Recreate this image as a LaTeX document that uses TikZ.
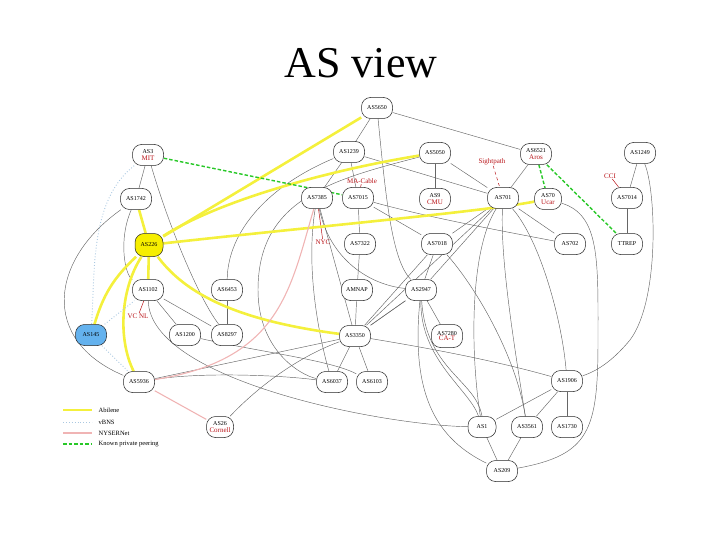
\documentclass[tikz,border=0pt]{standalone}
\usepackage{fontspec}
\setmainfont{Liberation Serif}
\definecolor{lblred}{RGB}{185,20,25}
\definecolor{abyellow}{RGB}{244,240,60}
\definecolor{nodeyellow}{RGB}{246,238,0}
\definecolor{vblue}{RGB}{170,200,225}
\definecolor{nypink}{RGB}{240,180,180}
\definecolor{pgreen}{RGB}{40,200,40}
\definecolor{nodeblue}{RGB}{100,178,238}
\pgfdeclarelayer{bg}
\pgfsetlayers{bg,main}
\begin{document}
\begin{tikzpicture}[x=1pt,y=-1pt,
  asn/.style={draw=black!85, line width=0.5pt, rounded corners=9pt, minimum width=31pt, minimum height=21pt, inner sep=1pt, fill=white, align=center, font=\fontsize{6}{6.5}\selectfont},
  ln/.style={draw=black!60, line width=0.45pt},
  abil/.style={draw=abyellow, line width=2.6pt},
  vbns/.style={draw=vblue, line width=0.9pt, dotted},
  nys/.style={draw=nypink, line width=1.1pt},
  peer/.style={draw=pgreen, line width=1.4pt, dash pattern=on 3.5pt off 2pt},
  call/.style={draw=lblred, line width=0.5pt},
  lbl/.style={text=lblred, font=\fontsize{7}{7}\selectfont, inner sep=0.5pt},
  leg/.style={anchor=west, font=\fontsize{6.5}{6.5}\selectfont, inner sep=0.5pt}]
\useasboundingbox (0,0) rectangle (720,540);
\node (title) at (361,63) {\fontsize{44}{44}\selectfont AS view};

% nodes
\node[asn] (as5650) at (377,108) {AS5650};
\node[asn] (as3) at (148,155) {AS3\\\textcolor{lblred}{\fontsize{7}{7}\selectfont MIT}};
\node[asn] (as1239) at (349,152) {AS1239};
\node[asn] (as5050) at (435,153) {AS5050};
\node[asn] (as6521) at (536,154) {AS6521\\\textcolor{lblred}{\fontsize{7}{7}\selectfont Aros}};
\node[asn] (as1249) at (640,153) {AS1249};
\node[asn] (as1742) at (136,199) {AS1742};
\node[asn] (as7385) at (317,198) {AS7385};
\node[asn] (as7015) at (358,198) {AS7015};
\node[asn] (as9) at (435,199) {AS9\\\textcolor{lblred}{\fontsize{7}{7}\selectfont CMU}};
\node[asn] (as701) at (503,198) {AS701};
\node[asn, minimum width=27pt] (as70) at (548,199) {AS70\\\textcolor{lblred}{\fontsize{7}{7}\selectfont Ucar}};
\node[asn] (as7014) at (627,198) {AS7014};
\node[asn, fill=nodeyellow, minimum width=28pt, minimum height=23pt] (as226) at (149,245) {AS226};
\node[asn] (as7322) at (360,244) {AS7322};
\node[asn] (as7018) at (437,244) {AS7018};
\node[asn] (as702) at (570,244) {AS702};
\node[asn] (ttrep) at (627,244) {TTREP};
\node[asn] (as1102) at (148,290) {AS1102};
\node[asn] (as6453) at (227,290) {AS6453};
\node[asn] (amnap) at (357,290) {AMNAP};
\node[asn] (as2947) at (421,290) {AS2947};
\node[asn, fill=nodeblue] (as145) at (91,335) {AS145};
\node[asn] (as1200) at (185,335) {AS1200};
\node[asn] (as8297) at (227,335) {AS8297};
\node[asn] (as3350) at (355,336) {AS3350};
\node[asn, minimum width=31pt, minimum height=23pt] (as7280) at (447,336) {AS7280\\[-1pt]\textcolor{lblred}{\fontsize{7}{7}\selectfont CA-T}};
\node[asn] (as5936) at (139,382) {AS5936};
\node[asn] (as6037) at (332,382) {AS6037};
\node[asn] (as6103) at (372,382) {AS6103};
\node[asn] (as1906) at (567,381) {AS1906};
\node[asn, minimum width=27pt] (as26) at (220,427) {AS26\\\textcolor{lblred}{\fontsize{7}{7}\selectfont Cornell}};
\node[asn, minimum width=28pt] (as1) at (482,427) {AS1};
\node[asn] (as3561) at (527,427) {AS3561};
\node[asn] (as1730) at (567,427) {AS1730};
\node[asn] (as209) at (502,471) {AS209};

% red labels
\node[lbl] (sight) at (492,162) {Sightpath};
\node[lbl] (cci) at (610,176) {CCI};
\node[lbl] (macable) at (362,181) {MA-Cable};
\node[lbl] (nyc) at (323,242) {NYC};
\node[lbl] (vcnl) at (138,316) {VC NL};

% legend
\coordinate (l1a) at (63,410); \coordinate (l1b) at (92,410);
\coordinate (l2a) at (63,422); \coordinate (l2b) at (92,422);
\coordinate (l3a) at (63,433); \coordinate (l3b) at (92,433);
\coordinate (l4a) at (63,444); \coordinate (l4b) at (92,444);
\draw[abil, line width=2pt] (l1a) -- (l1b);
\draw[vbns] (l2a) -- (l2b);
\draw[nys] (l3a) -- (l3b);
\draw[peer] (l4a) -- (l4b);
\node[leg] (t1) at (98,410) {Abilene};
\node[leg] (t2) at (98,422) {vBNS};
\node[leg] (t3) at (98,433) {NYSERNet};
\node[leg] (t4) at (98,444) {Known private peering};

\begin{pgfonlayer}{bg}
% black edges
\draw[ln] (as5650) -- (as1239);
\draw[ln] (as5650) -- (as6521);
\draw[ln] (as5650) .. controls (386,200) and (392,260) .. (as2947);
\draw[ln] (as3) -- (as1742);
\draw[ln] (as3) .. controls (170,230) and (200,300) .. (as8297);
\draw[ln] (as1742) .. controls (118,240) and (125,275) .. (as1102);
\draw[ln] (as1742) .. controls (50,260) and (40,340) .. (as5936);
\draw[ln] (as1239) -- (as7385);
\draw[ln] (as1239) -- (as7015);
\draw[ln] (as1239) -- (as701);
\draw[ln] (as1239) .. controls (270,185) and (228,230) .. (as6453);
\draw[ln] (as5050) -- (as9);
\draw[ln] (as5050) -- (as701);
\draw[ln] (as5050) .. controls (330,180) and (258,200) .. (258,290) .. controls (258,350) and (300,375) .. (as6037);
\draw[ln] (as6521) -- (as701);
\draw[ln] (as1249) -- (as7014);
\draw[ln] (as1249) .. controls (656,190) and (660,300) .. (630,340) .. controls (615,358) and (600,370) .. (as1906);
\draw[ln] (as7014) -- (ttrep);
\draw[ln] (as701) -- (as702);
\draw[ln] (as70) .. controls (600,215) and (598,260) .. (598,340) .. controls (598,430) and (590,455) .. (as209);
\draw[ln] (as701) -- (as7018);
\draw[ln] (as701) -- (as2947);
\draw[ln] (as701) -- (as3350);
\draw[ln] (as701) .. controls (470,250) and (470,350) .. (as1);
\draw[ln] (as701) .. controls (500,260) and (515,350) .. (as3561);
\draw[ln] (as701) .. controls (540,240) and (562,320) .. (as1906);
\draw[ln] (as7015) -- (as7322);
\draw[ln] (as7015) -- (as7018);
\draw[ln] (as7015) .. controls (420,215) and (470,225) .. (as702);
\draw[ln] (as7322) -- (amnap);
\draw[ln] (amnap) -- (as3350);
\draw[ln] (as7385) -- (as3350);
\draw[ln] (as7385) .. controls (330,260) and (370,285) .. (as2947);
\draw[ln] (as7385) .. controls (305,270) and (320,340) .. (as6037);
\draw[ln] (as7018) -- (as2947);
\draw[ln] (as7018) -- (as3350);
\draw[ln] (as7018) .. controls (470,280) and (515,350) .. (as3561);
\draw[ln] (as2947) -- (as3350);
\draw[ln] (as2947.south west) -- (as3350.north east);
\draw[ln] (as2947) -- (as7280);
\draw[ln] (as2947) .. controls (420,360) and (470,390) .. (as1);
\draw[ln] (as2947) .. controls (426,370) and (476,380) .. (as1.north);
\draw[ln] (as2947) .. controls (410,400) and (440,440) .. (as209);
\draw[ln] (as3350) -- (as6037);
\draw[ln] (as3350) -- (as6103);
\draw[ln] (as3350) .. controls (440,350) and (500,362) .. (as1906);
\draw[ln] (as1102) -- (as1200);
\draw[ln] (as1102) -- (as8297);
\draw[ln] (as1102) .. controls (150,380) and (380,425) .. (as1);
\draw[ln] (as6453) -- (as8297);
\draw[ln] (as1200) .. controls (260,352) and (330,360) .. (as6103);
\draw[ln] (as5936) -- (as3350);
\draw[ln] (as5936) .. controls (200,372) and (280,375) .. (as6037);
\draw[ln] (as26) .. controls (250,395) and (290,360) .. (as3350);
\draw[ln] (as1906) -- (as1730);
\draw[ln] (as1906) -- (as1);
\draw[ln] (as1906) -- (as3561);
\draw[ln] (as1) -- (as209);
\draw[ln] (as3561) -- (as209);

% callouts
\draw[call, dashed] (sight) -- (as701);
\draw[call] (cci) -- (as7014);
\draw[call] (macable) -- (as7015);
\draw[call] (nyc) -- (as7385);
\draw[call] (vcnl) -- (as1102);

% Abilene
\draw[abil] (as226) -- (as5650);
\draw[abil] (as226) .. controls (220,200) and (330,170) .. (as5050);
\draw[abil] (as226) .. controls (300,228) and (480,212) .. (as70);
\draw[abil] (as226) -- (as1742);
\draw[abil] (as226) -- (as1102);
\draw[abil] (as226) to[bend right=15] (as145);
\draw[abil] (as226) .. controls (120,290) and (118,340) .. (as5936);
\draw[abil] (as226) .. controls (190,300) and (250,322) .. (as3350);

% vBNS
\draw[vbns] (as3) .. controls (90,200) and (95,270) .. (as145);
\draw[vbns] (as145) -- (as1102);
\draw[vbns] (as145) -- (as5936);

% NYSERNet
\draw[nys] (as5936) -- (as26);
\draw[nys] (as5936) .. controls (280,360) and (290,290) .. (as7385);

% peering
\draw[peer] (as3) -- (as7015);
\draw[peer] (as6521) -- (ttrep);
\draw[peer] (as6521) -- (as70);
\end{pgfonlayer}
\end{tikzpicture}
\end{document}
